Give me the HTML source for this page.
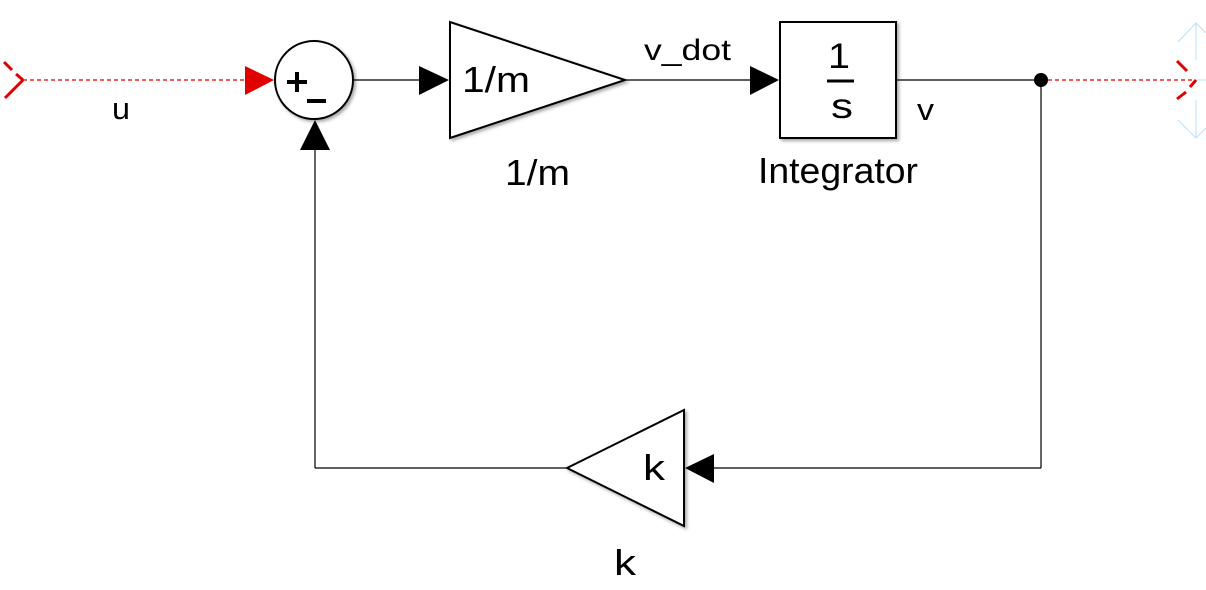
<!DOCTYPE html>
<html><head><meta charset="utf-8"><style>
body{margin:0;background:#fff;width:1206px;height:585px;overflow:hidden}
text{font-family:"Liberation Sans",Arial,sans-serif;fill:#000}
</style></head><body>
<svg width="1206" height="585" viewBox="0 0 1206 585">
<defs><filter id="sh" x="-20%" y="-20%" width="150%" height="150%"><feDropShadow dx="2" dy="2" stdDeviation="1.5" flood-color="#000" flood-opacity="0.35"/></filter></defs>
<g stroke="#e00000" stroke-width="3" fill="none">
<line x1="4" y1="62" x2="12" y2="70"/><line x1="16" y1="74" x2="23" y2="80"/><line x1="23" y1="80" x2="5" y2="98"/>
</g>
<line x1="23" y1="80" x2="246" y2="80" stroke="#e00000" stroke-width="1.2" stroke-dasharray="4,3"/>
<polygon points="245,66 274,80 245,95" fill="#e00000"/>
<text x="112" y="119" font-size="31" textLength="18" lengthAdjust="spacingAndGlyphs">u</text>
<g>
<circle cx="314" cy="80" r="39" fill="#fff" stroke="#000" stroke-width="2" filter="url(#sh)"/>
<rect x="287" y="80" width="20" height="4" fill="#000"/>
<rect x="295" y="72" width="4" height="20" fill="#000"/>
<rect x="307" y="99" width="19" height="4" fill="#000"/>
</g>
<line x1="353" y1="80" x2="420" y2="80" stroke="#000" stroke-width="1.2"/>
<polygon points="419,66 449,80 419,95" fill="#000"/>
<g>
<polygon points="450,22 450,138 625,80" fill="#fff" stroke="#000" stroke-width="2" filter="url(#sh)"/>
<text x="462" y="92" font-size="36" textLength="68" lengthAdjust="spacingAndGlyphs">1/m</text>
</g>
<text x="505" y="185" font-size="36" textLength="65" lengthAdjust="spacingAndGlyphs">1/m</text>
<line x1="625" y1="80" x2="752" y2="80" stroke="#000" stroke-width="1.2"/>
<text x="644" y="60" font-size="30" textLength="87" lengthAdjust="spacingAndGlyphs">v_dot</text>
<polygon points="750,66 779,80 750,95" fill="#000"/>
<g>
<rect x="780" y="22" width="116" height="116" fill="#fff" stroke="#000" stroke-width="2" filter="url(#sh)"/>
<text x="828" y="68" font-size="35" textLength="22" lengthAdjust="spacingAndGlyphs">1</text>
<line x1="827" y1="81" x2="854" y2="81" stroke="#000" stroke-width="3"/>
<text x="831" y="118" font-size="35" textLength="22" lengthAdjust="spacingAndGlyphs">s</text>
</g>
<text x="758" y="183" font-size="36" textLength="160" lengthAdjust="spacingAndGlyphs">Integrator</text>
<line x1="896" y1="80" x2="1041" y2="80" stroke="#000" stroke-width="1.2"/>
<text x="917" y="120" font-size="31" textLength="17" lengthAdjust="spacingAndGlyphs">v</text>
<circle cx="1041" cy="80" r="7" fill="#000"/>
<line x1="1048" y1="80" x2="1194" y2="80" stroke="#e00000" stroke-width="1.2" stroke-dasharray="4,3"/>
<g>
<g stroke="#b8e0f8" stroke-width="1" fill="none">
<line x1="1196" y1="23" x2="1196" y2="60"/><polyline points="1178,42 1196,23 1206,33"/>
<line x1="1196" y1="100" x2="1196" y2="138"/><polyline points="1178,120 1196,138 1206,128"/>
<line x1="1196" y1="80" x2="1206" y2="80"/>
</g>
<g stroke="#e00000" stroke-width="3"><line x1="1177" y1="61" x2="1187" y2="71"/><line x1="1196" y1="80" x2="1190" y2="87"/><line x1="1186" y1="92" x2="1177" y2="99"/></g>
</g>
<line x1="1041" y1="80" x2="1041" y2="468" stroke="#000" stroke-width="1.2"/>
<line x1="1041" y1="468" x2="712" y2="468" stroke="#000" stroke-width="1.2"/>
<polygon points="714,454 685,468 714,483" fill="#000"/>
<g>
<polygon points="684,410 684,526 567,468" fill="#fff" stroke="#000" stroke-width="2" filter="url(#sh)"/>
<text x="643" y="480" font-size="36" textLength="22" lengthAdjust="spacingAndGlyphs">k</text>
</g>
<text x="614" y="575" font-size="36" textLength="22" lengthAdjust="spacingAndGlyphs">k</text>
<line x1="567" y1="468" x2="315" y2="468" stroke="#000" stroke-width="1.2"/>
<line x1="315" y1="468" x2="315" y2="148" stroke="#000" stroke-width="1.2"/>
<polygon points="300,150 315,120 330,150" fill="#000"/>
</svg>
</body></html>
